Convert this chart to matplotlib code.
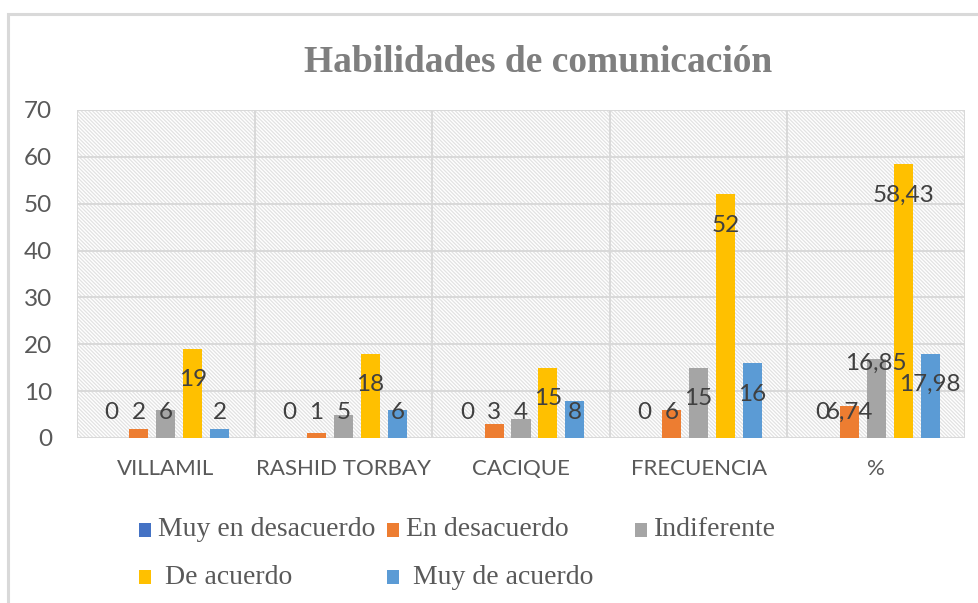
import matplotlib
matplotlib.use("Agg")
import matplotlib.pyplot as plt
from matplotlib.patches import Rectangle
import numpy as np

# ---------------- data ----------------
categories = ["VILLAMIL", "RASHID TORBAY", "CACIQUE", "FRECUENCIA", "%"]
series_names = ["Muy en desacuerdo", "En desacuerdo", "Indiferente",
                "De acuerdo", "Muy de acuerdo"]
muy_en_desacuerdo = [0, 0, 0, 0, 0]
en_desacuerdo = [2, 1, 3, 6, 6.74]
indiferente = [6, 5, 4, 15, 16.85]
de_acuerdo = [19, 18, 15, 52, 58.43]
muy_de_acuerdo = [2, 6, 8, 16, 17.98]
y_ticks = [0, 10, 20, 30, 40, 50, 60, 70]
title = "Habilidades de comunicación"

series = [muy_en_desacuerdo, en_desacuerdo, indiferente, de_acuerdo, muy_de_acuerdo]
colors = ["#4472C4", "#ED7D31", "#A5A5A5", "#FFC000", "#5B9BD5"]

W, H = 979, 603
plt.rcParams['hatch.color'] = '#e2e2e2'
plt.rcParams['hatch.linewidth'] = 0.9
fig = plt.figure(figsize=(W / 100, H / 100), dpi=100)
fig.patch.set_facecolor("white")

# outer chart border (cropped on right/bottom)
fig.add_artist(Rectangle((8 / W, -0.1), 2.0, 1.1 - 14 / H, transform=fig.transFigure,
                         fill=False, edgecolor="#d9d9d9", lw=2.2, zorder=0))

ax = fig.add_axes([77 / W, (H - 438) / H, (965 - 77) / W, (438 - 110) / H])
ax.set_xlim(-0.5, len(categories) - 0.5)
ax.set_ylim(0, 70)

# hatched plot background
ax.add_patch(Rectangle((-0.5, 0), len(categories), 70, facecolor="white",
                       edgecolor="#e2e2e2", hatch="\\" * 9, lw=0, zorder=0))

# grid
for yv in y_ticks:
    ax.axhline(yv, color="#d9d9d9", lw=1.4, zorder=1)
for xv in np.arange(-0.5, len(categories), 1.0):
    ax.axvline(xv, color="#d9d9d9", lw=1.4, zorder=1)
for s in ax.spines.values():
    s.set_visible(False)

x = np.arange(len(categories))
step = 0.152
bw = 0.107
label_font = dict(family=["Lato", "DejaVu Sans"], fontsize=17.5, color="#404040")

def fmt(v):
    return f"{v:g}".replace(".", ",")

px_per_unit = (438 - 110) / 70.0
raise_label = {(2, 4): 5.6}
for i, (vals, c) in enumerate(zip(series, colors)):
    xs = x + (i - 2) * step
    ax.bar(xs, vals, width=bw, color=c, zorder=3)
    for j, (xx, v) in enumerate(zip(xs, vals)):
        ly = max(v - 31 / px_per_unit, 5.5) + raise_label.get((i, j), 0)
        ax.text(xx, ly, fmt(v), ha="center", va="center", zorder=5, **label_font)

ax.set_yticks(y_ticks)
ax.set_xticks(x)
ax.set_xticklabels(categories)
ax.tick_params(length=0)
ax.tick_params(axis="y", pad=18, labelsize=17.5, labelcolor="#595959")
ax.tick_params(axis="x", pad=15, labelsize=16, labelcolor="#595959")
for lab in ax.get_xticklabels() + ax.get_yticklabels():
    lab.set_family(["Lato", "DejaVu Sans"])

fig.text(538 / W, 1 - 62 / H, title, ha="center", va="center",
         family=["Liberation Serif"], fontweight="bold", fontsize=27, color="#7f7f7f")

# legend (row-major, 3 columns)
marker_x = [139, 387, 635]
row_y = [530, 577]
labels = ["Muy en desacuerdo", "En desacuerdo", "Indiferente", " De acuerdo", " Muy de acuerdo"]
for k, (lab, c) in enumerate(zip(labels, colors)):
    r, col = divmod(k, 3)
    mx, my = marker_x[col], row_y[r]
    fig.add_artist(Rectangle((mx / W, 1 - (my + 7) / H), 12 / W, 14 / H,
                             transform=fig.transFigure, facecolor=c, edgecolor="none"))
    fig.text((mx + 19) / W, 1 - my / H, lab, ha="left", va="center",
             family=["Liberation Serif"], fontsize=20, color="#595959")

fig.savefig("out.png", dpi=100, facecolor="white")
